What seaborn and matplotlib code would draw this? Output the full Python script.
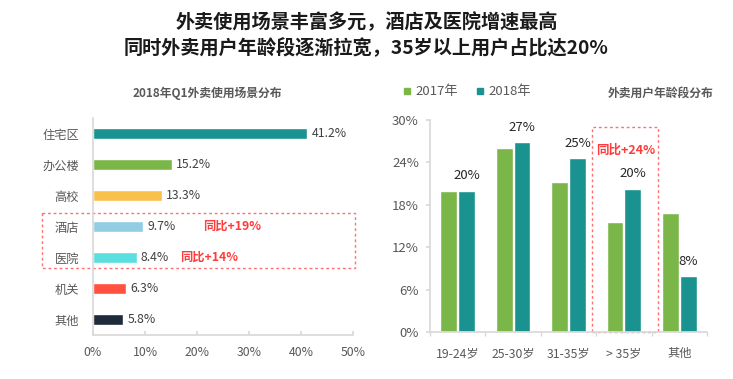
import matplotlib
matplotlib.use('Agg')
import matplotlib.pyplot as plt
import seaborn as sns
import pandas as pd
from matplotlib.patches import Rectangle
from matplotlib.lines import Line2D

# ----- data -----
scenes = ['住宅区', '办公楼', '高校', '酒店', '医院', '机关', '其他']
scene_share = [41.2, 15.2, 13.3, 9.7, 8.4, 6.3, 5.8]
scene_colors = ['#1a9390', '#7ab648', '#f9c04a', '#92cde4', '#5adede', '#ff5040', '#1e2b3a']

age_groups = ['19-24岁', '25-30岁', '31-35岁', '> 35岁', '其他']
years = ['2017年', '2018年']
share_2017 = [20.0, 26.1, 21.2, 15.6, 16.8]
share_2018 = [20.0, 26.9, 24.6, 20.3, 7.9]
labels_2018 = ['20%', '27%', '25%', '20%', '8%']
year_colors = ['#7ab648', '#1a9390']

sns.set_theme(style='white')
plt.rcParams['font.family'] = ['Noto Sans CJK SC', 'DejaVu Sans']

grey = '#595959'
axis_grey = '#d9d9d9'
red = '#ff3b3b'

fig = plt.figure(figsize=(7.33, 3.79), dpi=100)

# ----- main title -----
fig.text(0.5, 1 - 22 / 379, '外卖使用场景丰富多元，酒店及医院增速最高',
         ha='center', va='center', fontsize=13.8, fontweight='bold', color='#1a1a1a')
fig.text(0.5, 1 - 48 / 379, '同时外卖用户年龄段逐渐拉宽，35岁以上用户占比达20%',
         ha='center', va='center', fontsize=13.8, fontweight='bold', color='#1a1a1a')

# ----- 1. scene distribution (horizontal bars) -----
ax1 = fig.add_axes([93 / 733, 44 / 379, 260 / 733, 217 / 379])
df_scene = pd.DataFrame({'scene': scenes, 'share': scene_share})
sns.barplot(data=df_scene, x='share', y='scene', hue='scene', palette=scene_colors,
            legend=False, width=0.33, saturation=1, ax=ax1)
for c in ax1.containers:
    ax1.bar_label(c, fmt='%.1f%%', padding=3, fontsize=8.8, color='#404040')
ax1.set_xlim(0, 50)
ax1.set_ylim(6.5, -0.5)
ax1.set_xticks(range(0, 51, 10))
ax1.set_xticklabels([f'{v}%' for v in range(0, 51, 10)])
ax1.set_xlabel('')
ax1.set_ylabel('')
ax1.tick_params(axis='x', direction='in', length=3, color=axis_grey, labelsize=8.8,
                labelcolor=grey, pad=8, bottom=True)
ax1.tick_params(axis='y', length=0, labelsize=8.8, labelcolor=grey, pad=10)
for s in ['top', 'right']:
    ax1.spines[s].set_visible(False)
for s in ['left', 'bottom']:
    ax1.spines[s].set_color(axis_grey)

# highlight box around hotel & hospital
i_hotel = scenes.index('酒店')
i_hosp = scenes.index('医院')
ax1.add_patch(Rectangle((-9.8, i_hotel - 0.42), 60.2, i_hosp - i_hotel + 0.76,
                        fill=False, ec='#ff7070', lw=1, ls=(0, (2, 2)), clip_on=False))
ax1.text(21.2, i_hotel, '同比+19%', color=red, fontsize=8.8, fontweight='bold', va='center')
ax1.text(16.7, i_hosp, '同比+14%', color=red, fontsize=8.8, fontweight='bold', va='center')

fig.text(207 / 733, 1 - 93 / 379, '2018年Q1外卖使用场景分布', ha='center', va='center',
         fontsize=8.5, fontweight='bold', color=grey)

# ----- 2. age distribution (grouped bars) -----
ax2 = fig.add_axes([430 / 733, 47 / 379, 277 / 733, 212 / 379])
df_age = pd.DataFrame({
    'age': age_groups * 2,
    'year': [years[0]] * len(age_groups) + [years[1]] * len(age_groups),
    'share': share_2017 + share_2018,
})
sns.barplot(data=df_age, x='age', y='share', hue='year', palette=year_colors,
            width=0.64, gap=0.05, saturation=1, ax=ax2)
ax2.bar_label(ax2.containers[1], labels=labels_2018, padding=6, fontsize=9.5, color='#262626')
ax2.legend_.remove()
ax2.set_xlim(-0.5, 4.5)
ax2.set_ylim(0, 30)
ax2.set_yticks(range(0, 31, 6))
ax2.set_yticklabels([f'{v}%' for v in range(0, 31, 6)])
ax2.set_xticks([x - 0.5 for x in range(len(age_groups) + 1)], minor=True)
ax2.set_xlabel('')
ax2.set_ylabel('')
ax2.tick_params(axis='x', which='major', length=0, labelsize=8.8, labelcolor=grey, pad=11)
ax2.tick_params(axis='x', which='minor', length=3, color=axis_grey, bottom=True, direction='out')
ax2.tick_params(axis='y', length=3, color=axis_grey, labelsize=9.5, labelcolor=grey, pad=5, left=True)
for s in ['top', 'right']:
    ax2.spines[s].set_visible(False)
for s in ['left', 'bottom']:
    ax2.spines[s].set_color(axis_grey)

i_35 = age_groups.index('> 35岁')
ax2.add_patch(Rectangle((i_35 - 0.58, 0), 1.2, 29.0, fill=False, ec='#ff7070', lw=1,
                        ls=(0, (2, 2)), clip_on=False))
ax2.text(i_35 + 0.03, 25.7, '同比+24%', color=red, fontsize=9, fontweight='bold',
         ha='center', va='center')

handles = [Line2D([], [], marker='s', ls='', color=c, markersize=5) for c in year_colors]
fig.legend(handles, years, loc='center left', bbox_to_anchor=(389 / 733, 1 - 92 / 379),
           ncol=2, frameon=False, fontsize=9.5, labelcolor=grey, handletextpad=0.1,
           columnspacing=1.2, handlelength=1)

fig.text(713 / 733, 1 - 93 / 379, '外卖用户年龄段分布', ha='right', va='center',
         fontsize=8.5, fontweight='bold', color=grey)

fig.savefig('out.png', dpi=100)
